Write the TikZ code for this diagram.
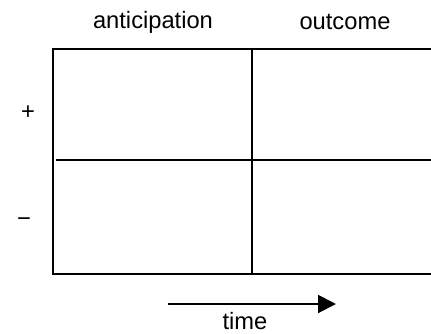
\documentclass[tikz,border=0pt]{standalone}
\usepackage{fontspec}
\setmainfont{Liberation Sans}
\usetikzlibrary{arrows.meta}
\begin{document}
\begin{tikzpicture}[x=1pt,y=-1pt,
  gridline/.style={line width=2pt,black},
  lbl/.style={inner sep=0pt,font=\fontsize{23.7}{28}\selectfont},
  timearrow/.style={line width=2pt,-{Triangle[length=18pt,width=18pt]}}]
\useasboundingbox (0,0) rectangle (431,333);
\begin{scope}
\clip (0,0) rectangle (431,333);
% frame
\draw[gridline] (440,49) -- (53,49) -- (53,274) -- (440,274);
\draw[gridline] (252,49) -- (252,274);
\draw[gridline] (56,160) -- (440,160);
\end{scope}
\node[lbl] (ant) at (153,22) {anticipation};
\node[lbl] (out) at (345,22) {outcome};
\node[lbl] (plus) at (28,113) {+};
\node[lbl] (minus) at (24,222) {−};
\coordinate (ts) at (168,304);
\coordinate (te) at (336,304);
\draw[timearrow] (ts) -- (te);
\node[lbl] (time) at (245,321) {time};
\end{tikzpicture}
\end{document}
